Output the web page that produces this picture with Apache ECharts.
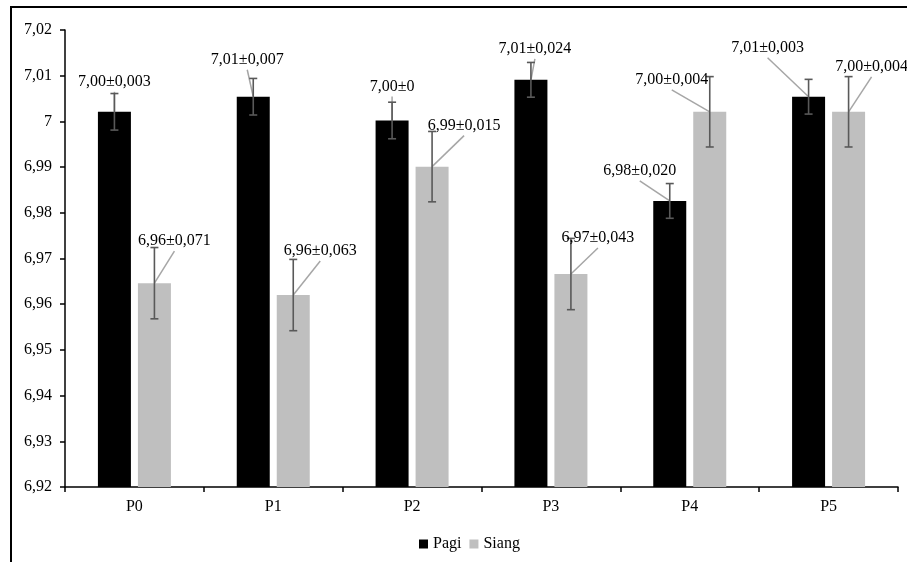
<!DOCTYPE html>
<html><head><meta charset="utf-8">
<script src="https://cdn.jsdelivr.net/npm/echarts@6/dist/echarts.min.js"></script>
<style>html,body{margin:0;padding:0;background:#fff}#c{width:907px;height:562px}</style>
</head><body><div id="c"></div>
<script>
const categories = ['P0', 'P1', 'P2', 'P3', 'P4', 'P5'];
const pagiMean = [7.0021, 7.0054, 7.0002, 7.0091, 6.9826, 7.0054];
const pagiErr = [0.0040, 0.0040, 0.0040, 0.0038, 0.0038, 0.0038];
const siangMean = [6.9646, 6.9620, 6.9901, 6.9666, 7.0021, 7.0021];
const siangErr = [0.0078, 0.0078, 0.0077, 0.0078, 0.0077, 0.0077];
const pagiLabels = ['7,00±0,003', '7,01±0,007', '7,00±0', '7,01±0,024', '6,98±0,020', '7,01±0,003'];
const siangLabels = ['6,96±0,071', '6,96±0,063', '6,99±0,015', '6,97±0,043', '7,00±0,004', '7,00±0,004'];
const yMin = 6.92, yMax = 7.02, yStep = 0.01;

// label placement (style): offset of label centre from bar-top centre, px
const pagiOff = [[0, -30], [-6, -37], [0, -34], [4, -31], [-30, -30], [-41, -49]];
const siangOff = [[20, -42], [27, -44], [32, -41], [27, -36], [-38, -32], [23, -45]];

const FONT = 'Liberation Serif';
const BAR_W = 33, BAR_GAP_PX = 7;

function makeRender(labels, offs, side) {
  return function (params, api) {
    const i = api.value(0), m = api.value(1), e = api.value(2);
    const dx = side * (BAR_W + BAR_GAP_PX) / 2;
    const top = api.coord([i, m]);
    const hi = api.coord([i, m + e]);
    const lo = api.coord([i, m - e]);
    const x = top[0] + dx;
    const o = offs[i];
    const lx = x + o[0], ly = top[1] + o[1];
    const cap = 4;
    const ebStyle = { stroke: '#595959', lineWidth: 1.6 };
    return {
      type: 'group',
      children: [
        { type: 'line', shape: { x1: x, y1: top[1], x2: lx, y2: ly + 10 }, style: { stroke: '#a6a6a6', lineWidth: 1.5 } },
        { type: 'line', shape: { x1: x, y1: hi[1], x2: x, y2: lo[1] }, style: ebStyle },
        { type: 'line', shape: { x1: x - cap, y1: hi[1], x2: x + cap, y2: hi[1] }, style: ebStyle },
        { type: 'line', shape: { x1: x - cap, y1: lo[1], x2: x + cap, y2: lo[1] }, style: ebStyle },
        { type: 'text', style: { text: labels[i], x: lx, y: ly, align: 'center', verticalAlign: 'middle', font: '16px "Liberation Serif"', fill: '#000' } }
      ]
    };
  };
}

const chart = echarts.init(document.getElementById('c'));
chart.setOption({
  animation: false,
  backgroundColor: '#fff',
  textStyle: { fontFamily: FONT, fontSize: 16, color: '#000' },
  graphic: [{
    type: 'rect', shape: { x: 11, y: 7, width: 2000, height: 2000 },
    style: { fill: 'none', stroke: '#000', lineWidth: 2 }, z: 100, silent: true
  }],
  grid: { left: 65, right: 9, top: 30, bottom: 75, containLabel: false },
  legend: {
    data: ['Pagi', 'Siang'], top: 536, left: 419, padding: 0,
    icon: 'rect', itemWidth: 9, itemHeight: 9, itemGap: 8,
    textStyle: { fontFamily: FONT, fontSize: 16, color: '#000' }
  },
  xAxis: {
    type: 'category', data: categories, boundaryGap: true,
    axisLine: { lineStyle: { color: '#000', width: 1.5 } },
    axisTick: { show: true, length: 5, lineStyle: { color: '#000', width: 1.5 } },
    axisLabel: { color: '#000', fontFamily: FONT, fontSize: 16, margin: 12 },
    splitLine: { show: false }
  },
  yAxis: {
    type: 'value', min: yMin, max: yMax, interval: yStep,
    axisLine: { show: true, lineStyle: { color: '#000', width: 1.5 } },
    axisTick: { show: true, length: 5, lineStyle: { color: '#000', width: 1.5 } },
    axisLabel: {
      color: '#000', fontFamily: FONT, fontSize: 16, margin: 13,
      formatter: v => String(parseFloat(v.toFixed(2))).replace('.', ',')
    },
    splitLine: { show: false }
  },
  series: [
    { name: 'Pagi', type: 'bar', data: pagiMean, barWidth: BAR_W, barGap: (BAR_GAP_PX / BAR_W * 100).toFixed(1) + '%', itemStyle: { color: '#000' } },
    { name: 'Siang', type: 'bar', data: siangMean, barWidth: BAR_W, itemStyle: { color: '#bfbfbf' } },
    { name: 'pagiErr', type: 'custom', z: 5, data: pagiMean.map((m, i) => [i, m, pagiErr[i]]), renderItem: makeRender(pagiLabels, pagiOff, -1) },
    { name: 'siangErr', type: 'custom', z: 5, data: siangMean.map((m, i) => [i, m, siangErr[i]]), renderItem: makeRender(siangLabels, siangOff, 1) }
  ]
});
</script>
</body></html>
